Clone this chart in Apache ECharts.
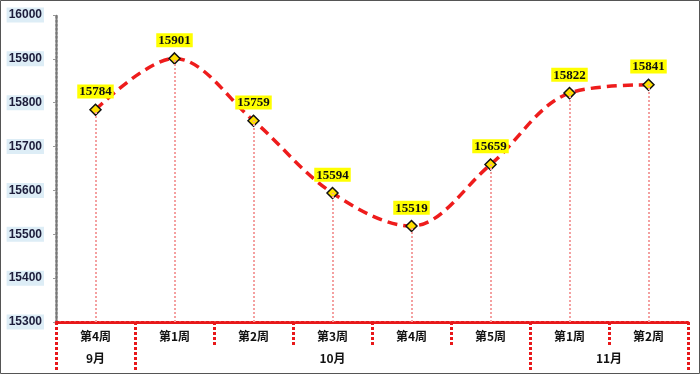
<!DOCTYPE html>
<html><head><meta charset="utf-8">
<script src="https://cdn.jsdelivr.net/npm/echarts@6/dist/echarts.min.js"></script>
<style>html,body{margin:0;padding:0;background:#fff}#c{width:700px;height:374px}</style>
</head><body><div id="c"></div>
<script>
const weeks = ['第4周','第1周','第2周','第3周','第4周','第5周','第1周','第2周'];
const values = [15784, 15901, 15759, 15594, 15519, 15659, 15822, 15841];
const months = ['9月','10月','11月'];
const monthSpans = [1, 5, 2];
const yMin = 15300, yMax = 16000, yStep = 100;

// month axis: half-step positions
const monthAxis = new Array(weeks.length * 2 + 1).fill('');
const monthTicks = new Set([0]);
let start = 0;
months.forEach((m, i) => {
  monthAxis[start * 2 + monthSpans[i]] = m;
  start += monthSpans[i];
  monthTicks.add(start * 2);
});

const red = '#e8181a';
const chart = echarts.init(document.getElementById('c'));
chart.setOption({
  animation: false,
  backgroundColor: '#fff',
  grid: { left: 56, right: 12, top: 15, bottom: 52 },
  graphic: [{ type: 'rect', shape: { x: 0.5, y: 0.5, width: 699, height: 373 }, style: { fill: 'none', stroke: '#555', lineWidth: 1 }, silent: true }],
  xAxis: [{
    type: 'category', data: weeks, boundaryGap: true, position: 'bottom',
    axisLine: { lineStyle: { color: red, type: [3, 2], width: 3 } },
    axisTick: { show: true, interval: 0, length: 23, lineStyle: { color: red, type: [3, 2], width: 3 } },
    axisLabel: { interval: 0, margin: 8, color: '#111', fontWeight: 'bold', fontSize: 12, fontFamily: 'Noto Sans CJK SC' },
    splitLine: { show: false }
  }, {
    type: 'category', data: monthAxis, boundaryGap: false, position: 'bottom',
    axisLine: { show: false },
    axisTick: { show: true, length: 48, interval: (i) => monthTicks.has(i), lineStyle: { color: red, type: [3, 2], width: 3 } },
    axisLabel: { interval: 0, margin: 30, color: '#111', fontWeight: 'bold', fontSize: 12, fontFamily: 'Noto Sans CJK SC' },
    splitLine: { show: false }
  }],
  yAxis: {
    type: 'value', min: yMin, max: yMax, interval: yStep,
    axisLine: { show: true, lineStyle: { color: '#777', type: [2, 2], width: 2.5 } },
    axisTick: { show: true, length: 3, lineStyle: { color: '#999' } },
    splitLine: { show: false },
    axisLabel: { margin: 12, color: '#1c1c3a', fontWeight: 'bold', fontSize: 12, fontFamily: 'Liberation Sans',
      formatter: (v) => String(v),
      backgroundColor: '#ddedf6', padding: [2, 2, 1, 2] }
  },
  series: [{
    type: 'line', data: values, smooth: 0.35,
    lineStyle: { color: '#ee1c1c', width: 3.5, type: [10, 6] },
    symbol: 'diamond', symbolSize: 11,
    itemStyle: { color: '#ffe000', borderColor: '#111', borderWidth: 1.5 },
    label: { show: true, position: 'top', distance: 5, color: '#111', fontWeight: 'bold', fontSize: 13,
      fontFamily: 'Liberation Serif', backgroundColor: '#ffff00', padding: [1, 2, 0, 2] },
    markLine: {
      silent: true, symbol: 'none', animation: false,
      label: { show: false },
      lineStyle: { color: '#f4a0a0', type: [2, 2], width: 2 },
      data: values.map((v, i) => [{ coord: [i, yMin] }, { coord: [i, v] }])
    },
    z: 3
  }]
});
</script></body></html>
